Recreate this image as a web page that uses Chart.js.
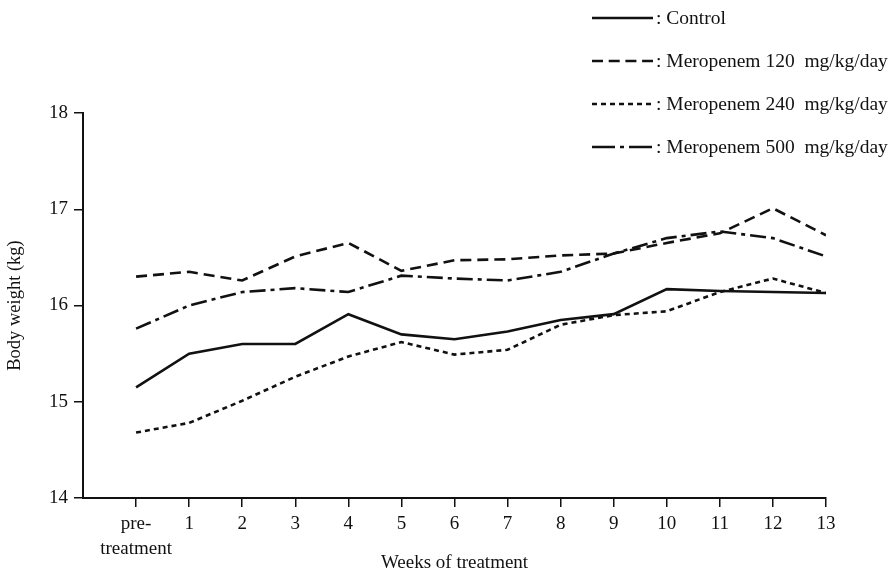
<!DOCTYPE html>
<html>
<head>
<meta charset="utf-8">
<script src="https://cdn.jsdelivr.net/npm/chart.js@4/dist/chart.umd.min.js"></script>
<style>
  html, body { margin: 0; padding: 0; background: #fff; }
  #wrap { width: 888px; height: 570px; position: relative; }
</style>
</head>
<body>
<div id="wrap"><canvas id="c" width="888" height="570"></canvas></div>
<script>
// Weeks of treatment (x categories)
const categories = ['pre-treatment', '1', '2', '3', '4', '5', '6', '7', '8', '9', '10', '11', '12', '13'];
const tickLabels = [['pre-', 'treatment'], '1', '2', '3', '4', '5', '6', '7', '8', '9', '10', '11', '12', '13'];
const yTicks = [14, 15, 16, 17, 18];

// Body weight (kg)
const seriesLabels = ['Control', 'Meropenem 120  mg/kg/day', 'Meropenem 240  mg/kg/day', 'Meropenem 500  mg/kg/day'];
const control  = [15.15, 15.50, 15.60, 15.60, 15.91, 15.70, 15.65, 15.73, 15.85, 15.91, 16.17, 16.15, 16.14, 16.13];
const mero120  = [16.30, 16.35, 16.26, 16.51, 16.65, 16.36, 16.47, 16.48, 16.52, 16.54, 16.65, 16.75, 17.01, 16.73];
const mero240  = [14.68, 14.78, 15.01, 15.26, 15.47, 15.62, 15.49, 15.54, 15.80, 15.90, 15.94, 16.14, 16.28, 16.13];
const mero500  = [15.76, 16.00, 16.14, 16.18, 16.14, 16.31, 16.28, 16.26, 16.35, 16.54, 16.70, 16.77, 16.70, 16.51];

const FONT = '"Liberation Serif", "DejaVu Serif", serif';
const INK = '#111';

const toPoints = arr => arr.map((v, i) => ({ x: i, y: v }));
const dashes = [[], [11, 6], [5, 4], [16, 5, 4, 5]];
const legendDashes = [[], [11, 5.7], [5, 4], [23, 5, 4, 5]];
const allSeries = [control, mero120, mero240, mero500];

const datasets = allSeries.map((s, k) => ({
  label: seriesLabels[k],
  data: toPoints(s),
  borderColor: INK,
  borderWidth: 2.6,
  borderDash: dashes[k],
  pointRadius: 0,
  fill: false,
  tension: 0
}));

const legendPlugin = {
  id: 'sideLegend',
  afterDraw(chart) {
    const ctx = chart.ctx;
    const rows = [18, 61, 104, 147];
    ctx.save();
    chart.data.datasets.forEach((ds, i) => {
      const y = rows[i];
      ctx.beginPath();
      ctx.setLineDash(legendDashes[i]);
      ctx.lineWidth = ds.borderWidth;
      ctx.strokeStyle = ds.borderColor;
      ctx.moveTo(592, y);
      ctx.lineTo(653, y);
      ctx.stroke();
      ctx.setLineDash([]);
      ctx.fillStyle = INK;
      ctx.font = '19.5px ' + FONT;
      ctx.textBaseline = 'middle';
      ctx.textAlign = 'left';
      ctx.fillText(': ' + ds.label, 656, y + 1);
    });
    ctx.restore();
  }
};

new Chart(document.getElementById('c'), {
  type: 'line',
  data: { datasets },
  options: {
    responsive: false,
    animation: false,
    devicePixelRatio: 1,
    layout: { padding: { top: 113, right: 62, bottom: 0, left: 0 } },
    plugins: { legend: { display: false }, tooltip: { enabled: false } },
    scales: {
      x: {
        type: 'linear',
        min: -1,
        max: 13,
        afterBuildTicks: scale => { scale.ticks = categories.map((_, i) => ({ value: i })); },
        afterFit: scale => { scale.height = 72; },
        ticks: {
          autoSkip: false,
          maxRotation: 0,
          padding: 5,
          color: INK,
          font: { family: FONT, size: 19, lineHeight: 1.3 },
          callback: v => tickLabels[v]
        },
        grid: { display: true, drawOnChartArea: false, drawTicks: true, tickLength: 9, color: INK, lineWidth: 1.5 },
        border: { display: true, color: INK, width: 2 },
        title: { display: true, text: 'Weeks of treatment', color: INK, font: { family: FONT, size: 19, lineHeight: 0.75 }, padding: { top: 0, bottom: 0 } }
      },
      y: {
        min: 14,
        max: 18,
        afterBuildTicks: scale => { scale.ticks = yTicks.map(v => ({ value: v })); },
        afterFit: scale => { scale.width = 83; },
        ticks: { color: INK, padding: 6, font: { family: FONT, size: 19 } },
        grid: { display: true, drawOnChartArea: false, drawTicks: true, tickLength: 9, color: INK, lineWidth: 1.5 },
        border: { display: true, color: INK, width: 2 },
        title: { display: true, text: 'Body weight (kg)', color: INK, font: { family: FONT, size: 18.5 }, padding: { top: 4, bottom: 0 } }
      }
    }
  },
  plugins: [legendPlugin]
});
</script>
</body>
</html>
